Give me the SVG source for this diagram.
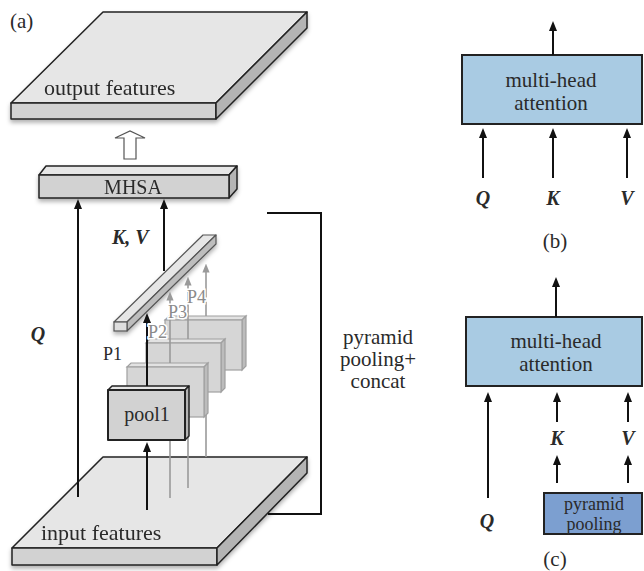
<svg xmlns="http://www.w3.org/2000/svg" width="644" height="571" viewBox="0 0 644 571">
<defs>
<marker id="ah" viewBox="0 0 10 10" markerWidth="10" markerHeight="10" markerUnits="userSpaceOnUse" refX="4" refY="5" orient="auto"><path d="M0,1 L10,5 L0,9 z" fill="#111"/></marker>
<marker id="ahg" viewBox="0 0 10 10" markerWidth="9" markerHeight="9" markerUnits="userSpaceOnUse" refX="4" refY="5" orient="auto"><path d="M0,1 L10,5 L0,9 z" fill="#999"/></marker>
<filter id="sh" x="-10%" y="-10%" width="120%" height="140%"><feDropShadow dx="0" dy="3" stdDeviation="2" flood-color="#000" flood-opacity="0.3"/></filter>
</defs>
<style>
text{font-family:"Liberation Serif","Times New Roman",serif;fill:#2a2a2a;font-size:21px}
.c{text-anchor:middle}
.bi{font-weight:bold;font-style:italic;font-size:20px}
.big{font-size:22px}
.top{fill:#e6e6e6;stroke:#222;stroke-width:1.5;stroke-linejoin:round}
.front{fill:#d2d2d2;stroke:#222;stroke-width:1.5;stroke-linejoin:round}
.side{fill:#b4b4b4;stroke:#222;stroke-width:1.5;stroke-linejoin:round}
.gtop{fill:#e2e2e2;stroke:#a0a0a0;stroke-width:1.2}
.gfront{fill:#d6d6d6;stroke:#a0a0a0;stroke-width:1.2}
.gside{fill:#bcbcbc;stroke:#a0a0a0;stroke-width:1.2}
.ln{stroke:#111;stroke-width:2;fill:none}
.gl{stroke:#9a9a9a;stroke-width:1.6;fill:none}
.blue{fill:#a9cbe3;stroke:#222;stroke-width:2}
.dblue{fill:#7c9fd0;stroke:#222;stroke-width:2}
.pl{fill:#8a8a8a;stroke:#fff;stroke-width:3;paint-order:stroke;font-size:18px}
.pp{font-size:18px}
</style>

<text x="10" y="28">(a)</text>

<g id="input-features" filter="url(#sh)">
<polygon class="top" points="12,548 217,548 307,457 103,457"/>
<polygon class="front" points="12,548 217,548 217,565 12,565"/>
<polygon class="side" points="217,548 307,457 307,473 217,565"/>
<text class="big" x="41" y="540">input features</text>
</g>

<g id="output-features" filter="url(#sh)">
<polygon class="top" points="11,103 216,103 307,12 103,12"/>
<polygon class="front" points="11,103 216,103 216,119 11,119"/>
<polygon class="side" points="216,103 307,12 307,28 216,119"/>
<text class="big" x="44" y="95">output features</text>
</g>

<g id="connectors-lower">
<line class="gl" x1="170" y1="498" x2="170" y2="417"/>
<line class="gl" x1="188" y1="488" x2="188" y2="392"/>
<line class="gl" x1="206" y1="457" x2="206" y2="370"/>
</g>

<g id="pool4">
<polygon class="gtop" points="165,320 242,320 246,316 169,316"/>
<polygon class="gside" points="242,320 246,316 246,366 242,370"/>
<rect class="gfront" x="165" y="320" width="77" height="50"/>
</g>
<g id="pool3">
<polygon class="gtop" points="146,343 221,343 225,339 150,339"/>
<polygon class="gside" points="221,343 225,339 225,388 221,392"/>
<rect class="gfront" x="146" y="343" width="75" height="49"/>
</g>
<g id="pool2">
<polygon class="gtop" points="127,367 204,367 208,363 131,363"/>
<polygon class="gside" points="204,367 208,363 208,413 204,417"/>
<rect class="gfront" x="127" y="367" width="77" height="50"/>
</g>
<g id="pool1">
<polygon class="top" points="108,390 185,390 189,386 112,386"/>
<polygon class="side" points="185,390 189,386 189,436 185,440"/>
<rect class="front" x="108" y="390" width="77" height="50" style="stroke-width:2"/>
<text class="c" x="147" y="421" style="font-size:20px">pool1</text>
</g>

<g id="concat-bar" filter="url(#sh)">
<polygon class="top" points="114,322 127,322 216,235 203,235" style="stroke:#555;stroke-width:1.2"/>
<polygon class="side" points="127,322 127,331 216,244 216,235" style="fill:#bdbdbd;stroke:#555;stroke-width:1.2"/>
<rect x="114" y="322" width="13" height="9" style="fill:#dedede;stroke:#555;stroke-width:1.2"/>
</g>

<g id="mhsa" filter="url(#sh)">
<polygon class="top" points="39,175 229,175 237,166 46,166"/>
<polygon class="side" points="229,175 237,166 237,189 229,198"/>
<rect class="front" x="39" y="175" width="190" height="23"/>
<text class="c" x="133" y="194" style="font-size:20px">MHSA</text>
</g>

<g id="connectors">
<polygon points="124,159 136,159 136,138 145,138 130,131 115,138 124,138" fill="#fff" stroke="#555" stroke-width="1.2"/>
<line class="ln" x1="78" y1="497" x2="78" y2="205" marker-end="url(#ah)"/>
<line class="ln" x1="164" y1="271" x2="164" y2="205" marker-end="url(#ah)"/>
<line class="ln" x1="147" y1="510" x2="147" y2="448" marker-end="url(#ah)"/>
<line class="ln" x1="147" y1="386" x2="147" y2="319" marker-end="url(#ah)"/>
<line class="gl" x1="170" y1="363" x2="170" y2="297" marker-end="url(#ahg)"/>
<line class="gl" x1="188" y1="339" x2="188" y2="282" marker-end="url(#ahg)"/>
<line class="gl" x1="206" y1="316" x2="206" y2="269" marker-end="url(#ahg)"/>
<polyline class="ln" points="267,213 321,213 321,514 268,514"/>
</g>

<g id="labels-a">
<text class="bi c" x="38" y="341">Q</text>
<text class="bi" x="112" y="244">K, V</text>
<text x="103" y="360" style="font-size:18px">P1</text>
<text class="pl" x="148" y="338">P2</text>
<text class="pl" x="168" y="318">P3</text>
<text class="pl" x="187" y="303">P4</text>
<text class="c" x="378" y="344">pyramid</text>
<text class="c" x="378" y="366">pooling+</text>
<text class="c" x="378" y="388">concat</text>
</g>

<g id="panel-b">
<g id="mha-b">
<rect class="blue" x="462" y="55" width="180" height="69"/>
<text class="c" x="551" y="87">multi-head</text>
<text class="c" x="551" y="110">attention</text>
</g>
<g id="connectors-b">
<line class="ln" x1="553" y1="55" x2="553" y2="27" marker-end="url(#ah)"/>
<line class="ln" x1="483" y1="178" x2="483" y2="134" marker-end="url(#ah)"/>
<line class="ln" x1="553" y1="178" x2="553" y2="134" marker-end="url(#ah)"/>
<line class="ln" x1="627" y1="178" x2="627" y2="134" marker-end="url(#ah)"/>
</g>
<text class="bi c" x="483" y="205">Q</text>
<text class="bi c" x="553" y="205">K</text>
<text class="bi c" x="627" y="205">V</text>
<text class="c" x="555" y="248">(b)</text>
</g>

<g id="panel-c">
<g id="mha-c">
<rect class="blue" x="466" y="317" width="176" height="69"/>
<text class="c" x="556" y="348">multi-head</text>
<text class="c" x="556" y="371">attention</text>
</g>
<g id="pyramid-pooling">
<rect class="dblue" x="544" y="493" width="98" height="41"/>
<text class="c pp" x="594" y="509.5">pyramid</text>
<text class="c pp" x="594" y="529.5">pooling</text>
</g>
<g id="connectors-c">
<line class="ln" x1="556" y1="317" x2="556" y2="283" marker-end="url(#ah)"/>
<line class="ln" x1="488" y1="498" x2="488" y2="398" marker-end="url(#ah)"/>
<line class="ln" x1="557" y1="422" x2="557" y2="398" marker-end="url(#ah)"/>
<line class="ln" x1="628" y1="422" x2="628" y2="398" marker-end="url(#ah)"/>
<line class="ln" x1="557" y1="483" x2="557" y2="461" marker-end="url(#ah)"/>
<line class="ln" x1="628" y1="483" x2="628" y2="461" marker-end="url(#ah)"/>
</g>
<text class="bi c" x="557" y="445">K</text>
<text class="bi c" x="628" y="445">V</text>
<text class="bi c" x="487" y="528">Q</text>
<text class="c" x="555" y="566">(c)</text>
</g>
</svg>
